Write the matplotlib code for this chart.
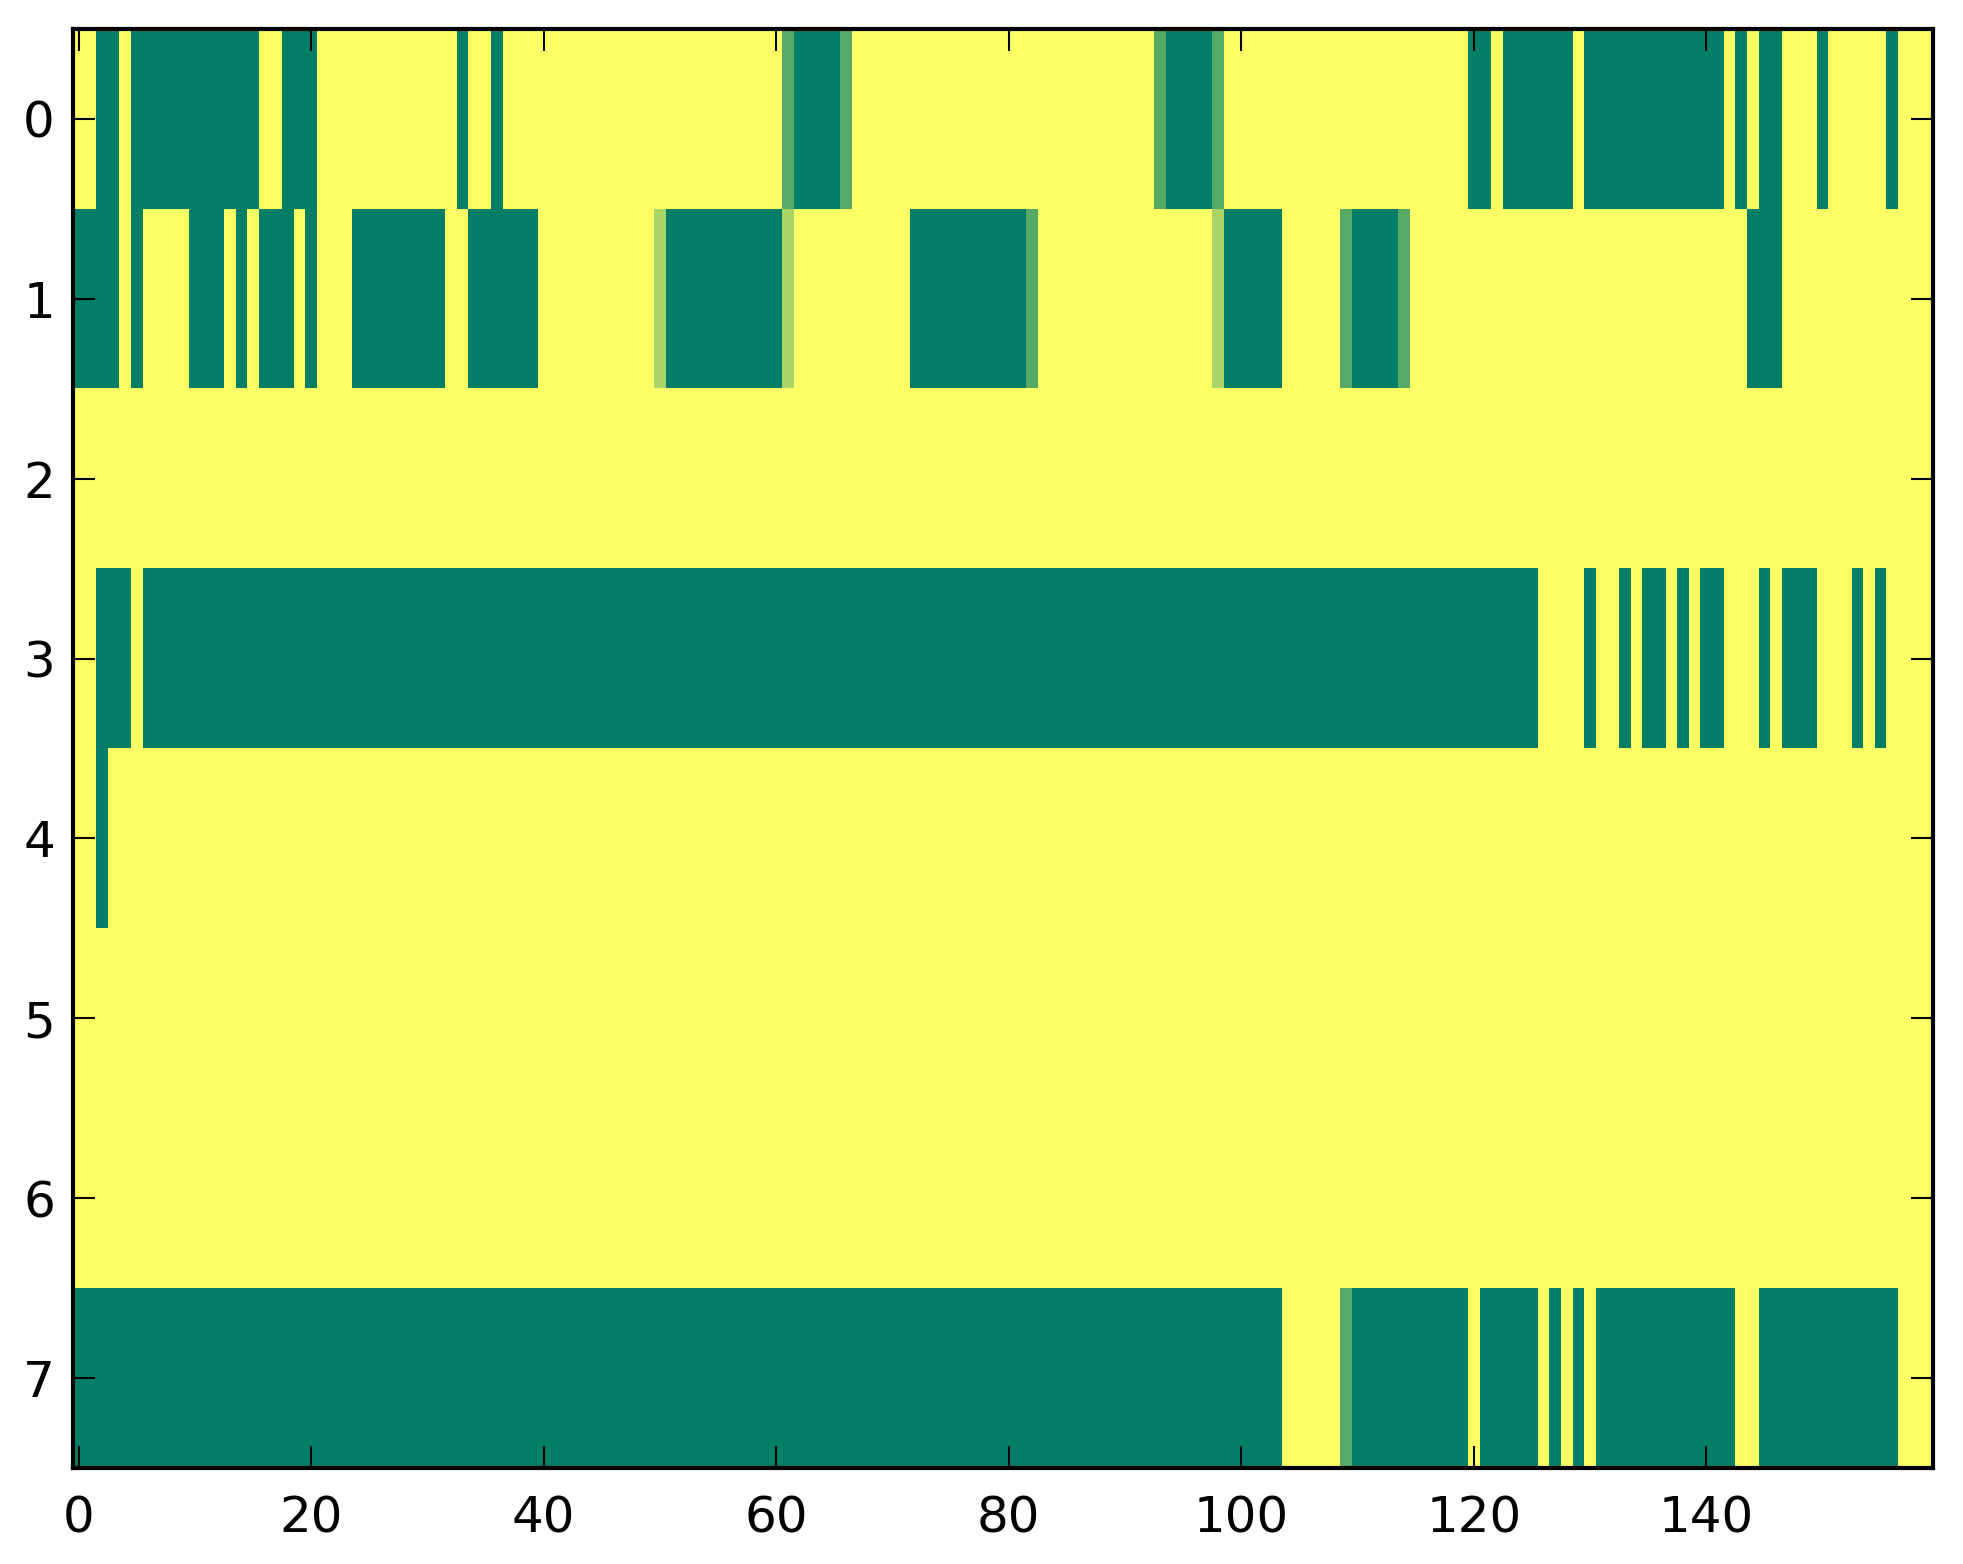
import numpy as np
import matplotlib
matplotlib.use("Agg")
import matplotlib.pyplot as plt

# each row has 160 cells, one digit per cell: value = digit / 3
# (0 = dark green, 3 = yellow in the summer colormap)
row0 = ("3300300000" "0000003300" "0333333333" "3330330333" "3333333333"
        "3333333333" "3100001333" "3333333333" "3333333333" "3331000013"
        "3333333333" "3333333333" "0030000003" "0000000000" "0030300333"
        "0333330333")
row1 = ("0000303333" "0003030003" "0333000000" "0033000000" "3333333333"
        "2000000000" "0233333333" "3300000000" "0013333333" "3333333320"
        "0000333331" "0000133333" "3333333333" "3333333333" "3333000333"
        "3333333333")
row2 = ("3333333333" "3333333333" "3333333333" "3333333333" "3333333333"
        "3333333333" "3333333333" "3333333333" "3333333333" "3333333333"
        "3333333333" "3333333333" "3333333333" "3333333333" "3333333333"
        "3333333333")
row3 = ("3300030000" "0000000000" "0000000000" "0000000000" "0000000000"
        "0000000000" "0000000000" "0000000000" "0000000000" "0000000000"
        "0000000000" "0000000000" "0000003333" "0330300303" "0033303000"
        "3330303333")
row4 = ("3303333333" "3333333333" "3333333333" "3333333333" "3333333333"
        "3333333333" "3333333333" "3333333333" "3333333333" "3333333333"
        "3333333333" "3333333333" "3333333333" "3333333333" "3333333333"
        "3333333333")
row5 = row2
row6 = row2
row7 = ("0000000000" "0000000000" "0000000000" "0000000000" "0000000000"
        "0000000000" "0000000000" "0000000000" "0000000000" "0000000000"
        "0000333331" "0000000000" "3000003030" "3000000000" "0003300000"
        "0000000333")

rows = [row0, row1, row2, row3, row4, row5, row6, row7]
data = np.array([[int(ch) / 3.0 for ch in r] for r in rows])

xticks = [0, 20, 40, 60, 80, 100, 120, 140]
yticks = [0, 1, 2, 3, 4, 5, 6, 7]

W, H = 1963, 1564
fig = plt.figure(figsize=(W / 100, H / 100), dpi=100)
ax = fig.add_axes([73 / W, 1 - 1468 / H, 1860 / W, 1439 / H])
ax.imshow(data, cmap="summer", vmin=0, vmax=1, aspect="auto",
          interpolation="nearest")

ax.set_xticks(xticks)
ax.set_yticks(yticks)
ax.tick_params(direction="in", length=16, width=1.5, top=True, right=True,
               labelsize=36, color="black")
ax.tick_params(axis="x", pad=19)
ax.tick_params(axis="y", pad=13)
for s in ax.spines.values():
    s.set_linewidth(3)

fig.savefig("out.png", dpi=100)
